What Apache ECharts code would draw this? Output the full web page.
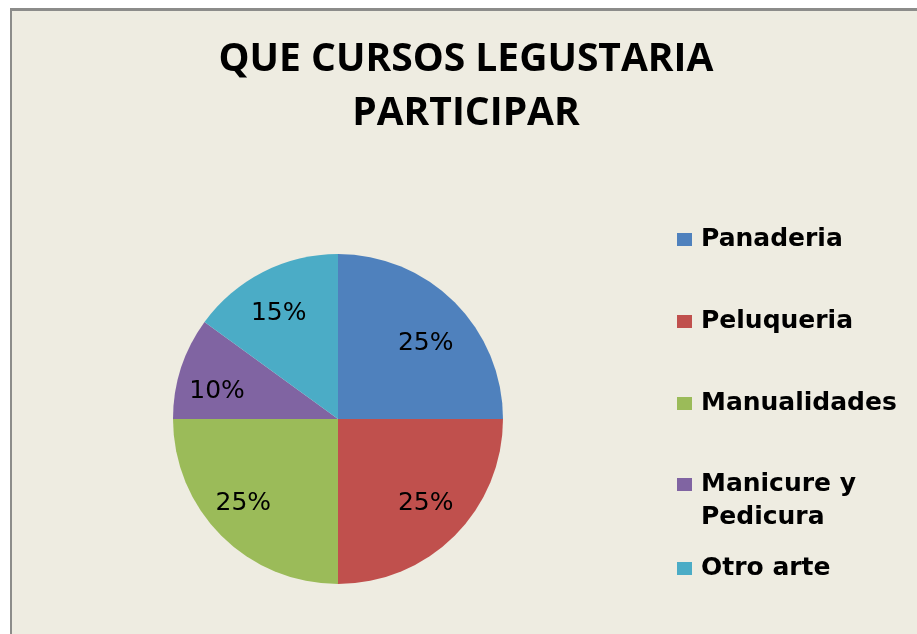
<!DOCTYPE html>
<html>
<head>
<meta charset="utf-8">
<script src="https://cdn.jsdelivr.net/npm/echarts@6/dist/echarts.min.js"></script>
<style>
  html, body { margin: 0; padding: 0; background: #ffffff; overflow: hidden; }
  #frame {
    position: absolute; left: 10px; top: 8px; width: 940px; height: 660px;
    background: #EEECE1;
    border-top: 3px solid #8c8c8a;
    border-left: 2px solid #8c8c8a;
  }
  #chart { position: absolute; left: 0; top: 0; width: 917px; height: 634px; }
</style>
</head>
<body>
<div id="frame"></div>
<div id="chart"></div>
<script>
  const categories = ['Panaderia', 'Peluqueria', 'Manualidades', 'Manicure y\nPedicura', 'Otro arte'];
  const values = [25, 25, 25, 10, 15];
  const colors = ['#4F81BD', '#C0504D', '#9BBB59', '#8064A2', '#4BACC6'];
  // small nudges so the % labels sit where Excel put them
  const labelNudge = [[0, 12], [0, -3], [-7, -3], [-3, 11], [-3, 5]];

  const chart = echarts.init(document.getElementById('chart'));

  const pieData = categories.map((name, i) => ({ name: name, value: values[i] }));

  const legendText = {
    fontFamily: 'DejaVu Sans',
    fontWeight: 'bold',
    fontSize: 25,
    lineHeight: 33,
    color: '#000',
    padding: [0, 0, 0, 4]
  };

  const legendBase = {
    orient: 'vertical',
    left: 677,
    padding: 0,
    itemWidth: 15,
    itemHeight: 13,
    icon: 'rect',
    selectedMode: false,
    textStyle: legendText
  };

  const options = {
    backgroundColor: 'transparent',
    color: colors,
    title: {
      text: 'QUE CURSOS LEGUSTARIA\nPARTICIPAR',
      left: 466,
      top: 33,
      textAlign: 'center',
      padding: 0,
      textStyle: {
        fontFamily: 'Open Sans',
        fontWeight: 'bold',
        fontSize: 39,
        lineHeight: 54,
        color: '#000'
      }
    },
    legend: [
      Object.assign({}, legendBase, {
        top: 223,
        itemGap: 49,
        data: categories.slice(0, 3)
      }),
      // two-line item: a blank first line keeps the marker beside "Manicure y"
      Object.assign({}, legendBase, {
        top: 435,
        data: [categories[3]],
        formatter: name => '\n' + name
      }),
      Object.assign({}, legendBase, {
        top: 552,
        data: [categories[4]]
      })
    ],
    series: [
      {
        name: 'cursos',
        type: 'pie',
        center: [338, 419],
        radius: [0, 165],
        startAngle: 90,
        clockwise: true,
        silent: true,
        label: { show: false },
        labelLine: { show: false },
        itemStyle: { borderWidth: 0 },
        data: pieData
      },
      {
        name: 'etiquetas',
        type: 'pie',
        center: [338, 419],
        radius: [77, 165],
        startAngle: 90,
        clockwise: true,
        silent: true,
        legendHoverLink: false,
        itemStyle: { color: 'transparent', borderWidth: 0 },
        label: {
          show: true,
          position: 'inside',
          formatter: '{c}%',
          fontFamily: 'DejaVu Sans',
          fontSize: 25,
          color: '#000'
        },
        labelLine: { show: false },
        data: pieData.map((d, i) => Object.assign({}, d, { label: { offset: labelNudge[i] } }))
      }
    ]
  };

  chart.setOption(options);
</script>
</body>
</html>
